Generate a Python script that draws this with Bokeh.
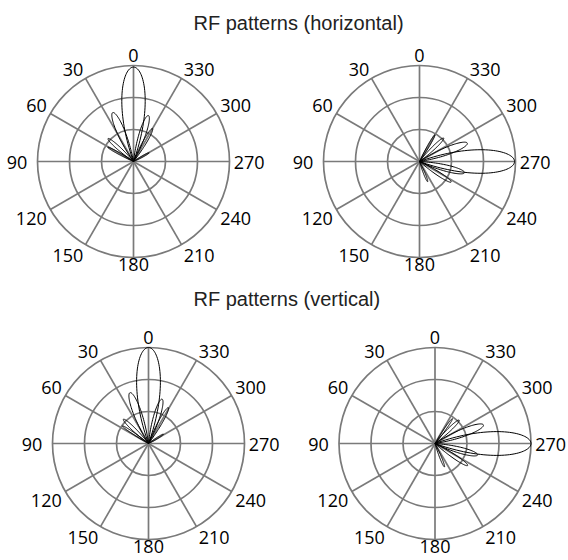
import numpy as np
from bokeh.plotting import figure
from bokeh.models import Range1d
from bokeh.core.properties import value
from bokeh.embed import file_html
from bokeh.resources import INLINE

# ---------------- data ----------------
titles = ["RF patterns (horizontal)", "RF patterns (vertical)"]
tick_angles = [0, 30, 60, 90, 120, 150, 180, 210, 240, 270, 300, 330]
tick_labels = ["0", "30", "60", "90", "120", "150", "180", "210", "240", "270", "300", "330"]
ring_levels = [1, 2, 3]

# lobe directions (deg, counter-clockwise from top) and peak gains
h_front_angles = [0, 23, 48, 61, 342, 330, 299]
h_front_gain = [2.95, 1.66, 1.07, 0.92, 1.51, 1.19, 0.56]
h_side_angles = [270, 291, 314, 330, 256, 237, 202]
h_side_gain = [2.97, 1.60, 1.05, 0.96, 1.45, 1.18, 0.68]
v_front_angles = [0, 20, 46, 56, 343, 331, 302]
v_front_gain = [3.0, 1.69, 1.09, 0.98, 1.45, 1.28, 0.55]
v_side_angles = [270, 291, 314, 325, 255, 236, 202]
v_side_gain = [3.0, 1.62, 1.05, 0.95, 1.38, 1.23, 0.79]
# half-width of each lobe to its nulls (deg)
lobe_halfwidth = [20, 12, 8, 5, 11, 8, 6]

# ---------------- layout ----------------
W, H = 568, 560
PX = 32.0  # pixels per ring unit


def to_data(px, py):
    return px / PX, (H - py) / PX


panels = [
    (to_data(133, 161), h_front_angles, h_front_gain),
    (to_data(419, 161), h_side_angles, h_side_gain),
    (to_data(148, 443), v_front_angles, v_front_gain),
    (to_data(434.5, 443), v_side_angles, v_side_gain),
]

p = figure(width=W, height=H, output_backend="svg", toolbar_location=None,
           x_range=Range1d(0, W / PX), y_range=Range1d(0, H / PX),
           x_axis_type=None, y_axis_type=None, min_border=0)
p.outline_line_color = None
p.background_fill_color = "white"
p.border_fill_color = "white"

GRID = "#7a7a7a"
R_OUT = max(ring_levels)

for (cx, cy), angs, gains in panels:
    # rings
    p.circle(x=[cx] * len(ring_levels), y=[cy] * len(ring_levels),
             radius=ring_levels, fill_color=None, line_color=GRID, line_width=1.7)
    # spokes
    th = np.radians(tick_angles)
    p.segment(x0=[cx] * len(th), y0=[cy] * len(th),
              x1=list(cx - R_OUT * np.sin(th)), y1=list(cy + R_OUT * np.cos(th)),
              line_color=GRID, line_width=1.7)
    # tick labels
    lx, ly = [], []
    for a, lab in zip(tick_angles, tick_labels):
        t = np.radians(a)
        dx, dy = -np.sin(t), np.cos(t)
        r_lab = 100
        if dx < -0.9:
            r_lab = 106
        elif dy < -0.9:
            r_lab = 96
        r_lab /= PX
        w = len(lab) * 10.4 / PX
        h = 12.8 / PX
        sx = 0 if abs(dx) < 0.1 else np.sign(dx)
        sy = 0 if abs(dy) < 0.1 else np.sign(dy)
        lx.append(cx + r_lab * dx + sx * w / 2)
        ly.append(cy + r_lab * dy + sy * h / 2 - 0.6 / PX)
    p.text(x=lx, y=ly, text=tick_labels, text_align="center", text_baseline="middle",
           text_font=value("Open Sans"), text_font_size="18px", text_color="black")
    # lobes
    xs, ys = [], []
    for c, g, hw in zip(angs, gains, lobe_halfwidth):
        phi = np.linspace(-hw, hw, 81)
        r = g * np.cos(np.pi / 2 * phi / hw)
        t = np.radians(c + phi)
        xs.append(list(cx - r * np.sin(t)))
        ys.append(list(cy + r * np.cos(t)))
    p.multi_line(xs=xs, ys=ys, line_color="black", line_width=1)

# titles
tx1, ty1 = to_data(193, 22)
tx2, ty2 = to_data(193, 298.5)
p.text(x=[tx1, tx2], y=[ty1, ty2], text=titles, text_align="left", text_baseline="middle",
       text_font=value("Liberation Sans"), text_font_size="20px", text_color="#222222")

open("out.html", "w").write(file_html(p, INLINE))
